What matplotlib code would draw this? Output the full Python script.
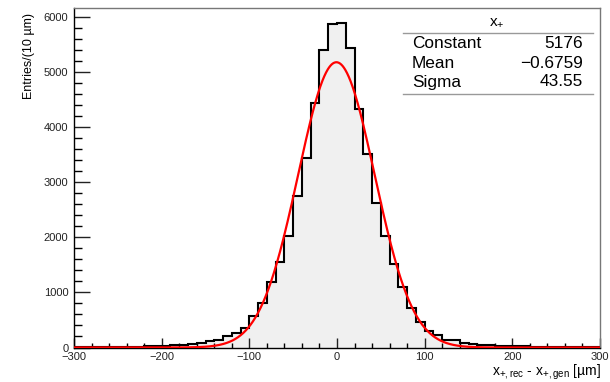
#!/usr/bin/env python3

import numpy as np
import matplotlib
matplotlib.use("Agg")
import matplotlib.pyplot as plt
from matplotlib.lines import Line2D

# ======================================================
# DATA
# ======================================================

BIN_EDGES = np.arange(-300, 301, 10)

COUNTS = [
    4, 6, 7, 9, 10, 12, 15, 18, 22,
    28, 33, 40, 47, 55, 78, 110, 140, 200, 272, 345,
    570, 805, 1195, 1550, 2030, 2745, 3430, 4436, 5393, 5865,
    5890, 5440, 4333, 3520, 2620, 2018, 1510, 1105, 720, 465,
    298, 220, 145, 130, 78, 70, 52, 45, 32, 27,
    22, 20, 17, 15, 12, 10, 9, 7, 6, 5,
]

FIT_CONSTANT = 5176
FIT_MEAN = -0.6759
FIT_SIGMA = 43.55

STATS_TITLE = r"x$_{+}$"
STATS_NAMES = ["Constant", "Mean", "Sigma"]
STATS_VALUES = ["5176", "\u22120.6759", "43.55"]

XLABEL = r"x$_{+,rec}$ - x$_{+,gen}$ [µm]"
YLABEL = "Entries/(10 µm)"

# ======================================================
# STYLE
# ======================================================

plt.rcParams["font.family"] = ["Liberation Sans", "DejaVu Sans"]
plt.rcParams["mathtext.fontset"] = "custom"
plt.rcParams["mathtext.rm"] = "Liberation Sans"
plt.rcParams["mathtext.it"] = "Liberation Sans"
plt.rcParams["mathtext.default"] = "regular"

W, H = 610, 382


def fx(px):
    return px / W


def fy(py):
    return 1 - py / H


fig = plt.figure(figsize=(W / 100, H / 100), dpi=100)
fig.patch.set_facecolor("white")

ax = fig.add_axes([fx(74), fy(347.5), fx(600) - fx(74), fy(8) - fy(347.5)])

# ======================================================
# HISTOGRAM + FIT
# ======================================================

ax.stairs(COUNTS, BIN_EDGES, fill=True, color="#f0f0f0", zorder=1)
ax.stairs(COUNTS, BIN_EDGES, color="black", lw=1.5, zorder=2)

xs = np.linspace(-300, 300, 1201)
ys = FIT_CONSTANT * np.exp(-0.5 * ((xs - FIT_MEAN) / FIT_SIGMA) ** 2)
ax.plot(xs, ys, color="#ff0000", lw=1.6, zorder=3)

ax.set_xlim(-300, 300)
ax.set_ylim(0, 6160)

ax.set_xticks(np.arange(-300, 301, 100))
ax.set_xticks(np.arange(-300, 301, 20), minor=True)
ax.set_yticks(np.arange(0, 6001, 1000))
ax.set_yticks(np.arange(0, 6001, 200), minor=True)

ax.tick_params(axis="x", which="major", direction="in", length=7.3, width=1,
               labelsize=8, pad=3, colors="#222222")
ax.tick_params(axis="x", which="minor", direction="in", length=3.7, width=1)
ax.tick_params(axis="y", which="major", direction="in", length=11.4, width=1,
               labelsize=8, pad=4, colors="#222222")
ax.tick_params(axis="y", which="minor", direction="in", length=5.7, width=1)

for side in ["left", "bottom"]:
    ax.spines[side].set_color("black")
    ax.spines[side].set_linewidth(1)
for side in ["top", "right"]:
    ax.spines[side].set_color("#777777")
    ax.spines[side].set_linewidth(1)

# axis titles, aligned to the axis ends like ROOT
fig.text(fx(601), fy(376), XLABEL, ha="right", va="baseline", fontsize=10)
fig.text(fx(29), fy(13), YLABEL, ha="center", va="top", rotation=90, fontsize=9)

# ======================================================
# STATS BOX
# ======================================================

fig.text(fx(497), fy(22), STATS_TITLE, ha="center", va="center", fontsize=11)

row_y = [44, 63.3, 82]
for name, val, py in zip(STATS_NAMES, STATS_VALUES, row_y):
    fig.text(fx(411.7), fy(py), name, ha="left", va="center", fontsize=12.4)
    fig.text(fx(583.3), fy(py), val, ha="right", va="center", fontsize=12.4)

for py in [32.7, 94.3]:
    fig.add_artist(Line2D([fx(402.7), fx(593)], [fy(py), fy(py)],
                          color="#999999", lw=1))

fig.savefig("out.png", dpi=100)
